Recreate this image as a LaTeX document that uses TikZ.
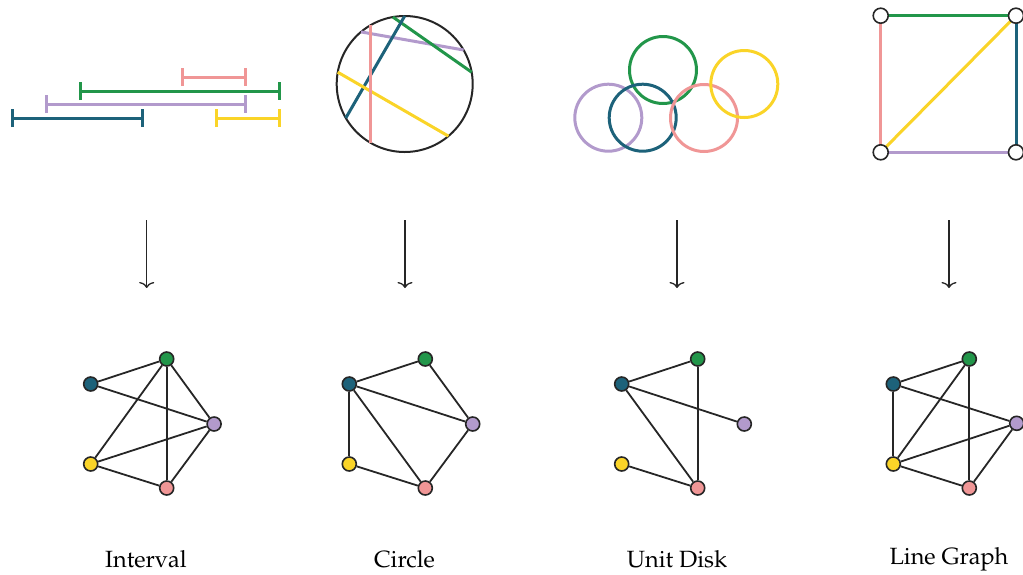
\documentclass[tikz,border=0pt]{standalone}
\usepackage[T1]{fontenc}
\usepackage{mathpazo}
\usepackage{xcolor}
\usetikzlibrary{arrows.meta}

\definecolor{gteal}{RGB}{29,98,122}
\definecolor{ggreen}{RGB}{34,150,74}
\definecolor{gpink}{RGB}{240,150,150}
\definecolor{gpurple}{RGB}{178,154,204}
\definecolor{gyellow}{RGB}{250,212,40}

\tikzset{
    vtx/.style={circle, draw=black!85, line width=1.6pt, minimum size=14pt, inner sep=0pt},
    wvtx/.style={vtx, fill=white, minimum size=15pt},
    edge/.style={draw=black!85, line width=1.8pt},
    span/.style={line width=3pt, {Bar[width=18pt]}-{Bar[width=18pt]}},
    chord/.style={line width=3pt},
    disk/.style={line width=3pt},
    sqedge/.style={line width=3pt},
    down/.style={draw=black!85, line width=1.3pt, -{To[length=6pt,width=15pt]}},
    lbl/.style={font=\fontsize{23.5}{28}\selectfont, anchor=base}
}

\begin{document}
\begin{tikzpicture}[x=1pt,y=-1pt]
                    \useasboundingbox (0,0) rectangle (1023,574);

                    % intervals
                    \draw[span, gpink] (181,77) -- (247,77);
                    \draw[span, ggreen] (79,91) -- (281,91);
                    \draw[span, gpurple] (45,104) -- (247,104);
                    \draw[span, gteal] (11,118) -- (144,118);
                    \draw[span, gyellow] (215,118) -- (281,118);

                    % circle with chords
                    \node[circle, draw=black!85, line width=2pt, minimum size=136pt, inner sep=0pt, outer sep=0pt] (chords) at (404.7,84) {};
                    \draw[chord, gpurple] (chords.130) -- (chords.30);
                    \draw[chord, ggreen] (chords.100) -- (chords.10);
                    \draw[chord, gteal] (chords.210) -- (chords.90);
                    \draw[chord, gyellow] (chords.170) -- (chords.310);
                    \draw[chord, gpink] (chords.120) -- (chords.240);

                    % unit disks
                    \draw[disk, gpurple] (608.3,117.7) circle (33.5);
                    \draw[disk, ggreen] (663,70) circle (33.5);
                    \draw[disk, gteal] (642.7,117.7) circle (33.5);
                    \draw[disk, gpink] (704,118) circle (33.5);
                    \draw[disk, gyellow] (744.3,84) circle (33.5);

                    % line graph source
                    \coordinate (tl) at (880.7,15.7);
                    \coordinate (tr) at (1016,15.7);
                    \coordinate (bl) at (880.7,152.3);
                    \coordinate (br) at (1016,152.3);
                    \draw[sqedge, ggreen] (tl) -- (tr);
                    \draw[sqedge, gteal] (tr) -- (br);
                    \draw[sqedge, gpurple] (bl) -- (br);
                    \draw[sqedge, gpink] (tl) -- (bl);
                    \draw[sqedge, gyellow] (bl) -- (tr);
                    \node[wvtx] (tlv) at (tl) {};
                    \node[wvtx] (trv) at (tr) {};
                    \node[wvtx] (blv) at (bl) {};
                    \node[wvtx] (brv) at (br) {};

                    % arrows
                    \coordinate (a1) at (146.7,220); \coordinate (b1) at (146.7,288);
                    \coordinate (a2) at (405,220);   \coordinate (b2) at (405,288);
                    \coordinate (a3) at (677,220);   \coordinate (b3) at (677,288);
                    \coordinate (a4) at (949,220);   \coordinate (b4) at (949,288);
                    \draw[down] (a1) -- (b1);
                    \draw[down] (a2) -- (b2);
                    \draw[down] (a3) -- (b3);
                    \draw[down] (a4) -- (b4);

                    % interval graph
                    \begin{scope}[shift={(90.7,0)}]
                    \node[vtx, fill=gteal] (it) at (0,384) {};
                    \node[vtx, fill=ggreen] (ig) at (76,359) {};
                    \node[vtx, fill=gpurple] (ip) at (123.4,424) {};
                    \node[vtx, fill=gyellow] (iy) at (0,464) {};
                    \node[vtx, fill=gpink] (ik) at (76,488) {};
                    \end{scope}
                    \draw[edge] (it) -- (ig);
                    \draw[edge] (it) -- (ip);
                    \draw[edge] (ig) -- (ip);
                    \draw[edge] (ig) -- (iy);
                    \draw[edge] (ig) -- (ik);
                    \draw[edge] (iy) -- (ip);
                    \draw[edge] (iy) -- (ik);
                    \draw[edge] (ik) -- (ip);

                    % circle graph
                    \begin{scope}[shift={(349.3,0)}]
                    \node[vtx, fill=gteal] (ct) at (0,384) {};
                    \node[vtx, fill=ggreen] (cg) at (76,359) {};
                    \node[vtx, fill=gpurple] (cp) at (123.4,424) {};
                    \node[vtx, fill=gyellow] (cy) at (0,464) {};
                    \node[vtx, fill=gpink] (ck) at (76,488) {};
                    \end{scope}
                    \draw[edge] (ct) -- (cg);
                    \draw[edge] (ct) -- (cp);
                    \draw[edge] (ct) -- (ck);
                    \draw[edge] (ct) -- (cy);
                    \draw[edge] (cg) -- (cp);
                    \draw[edge] (cp) -- (ck);
                    \draw[edge] (cy) -- (ck);

                    % unit disk graph
                    \begin{scope}[shift={(621.7,0)}]
                    \node[vtx, fill=gteal] (ut) at (0,384) {};
                    \node[vtx, fill=ggreen] (ug) at (76,359) {};
                    \node[vtx, fill=gpurple] (up) at (122.6,424) {};
                    \node[vtx, fill=gyellow] (uy) at (0,464) {};
                    \node[vtx, fill=gpink] (uk) at (76,488) {};
                    \end{scope}
                    \draw[edge] (ut) -- (ug);
                    \draw[edge] (ut) -- (up);
                    \draw[edge] (ut) -- (uk);
                    \draw[edge] (ug) -- (uk);
                    \draw[edge] (uy) -- (uk);

                    % line graph
                    \begin{scope}[shift={(893.3,0)}]
                    \node[vtx, fill=gteal] (lt) at (0,384) {};
                    \node[vtx, fill=ggreen] (lg) at (76,359) {};
                    \node[vtx, fill=gpurple] (lp) at (123.4,423.3) {};
                    \node[vtx, fill=gyellow] (ly) at (0,464) {};
                    \node[vtx, fill=gpink] (lk) at (76,488) {};
                    \end{scope}
                    \draw[edge] (lt) -- (lg);
                    \draw[edge] (lt) -- (lp);
                    \draw[edge] (lt) -- (ly);
                    \draw[edge] (lg) -- (ly);
                    \draw[edge] (lg) -- (lk);
                    \draw[edge] (ly) -- (lp);
                    \draw[edge] (ly) -- (lk);
                    \draw[edge] (lk) -- (lp);

                    % labels
                    \node[lbl] (lint) at (146,567) {Interval};
                    \node[lbl] (lcir) at (404.5,567) {Circle};
                    \node[lbl] (ludg) at (677,567) {Unit Disk};
                    \node[lbl] (llin) at (949,564.5) {Line Graph};
                \end{tikzpicture}
\end{document}
